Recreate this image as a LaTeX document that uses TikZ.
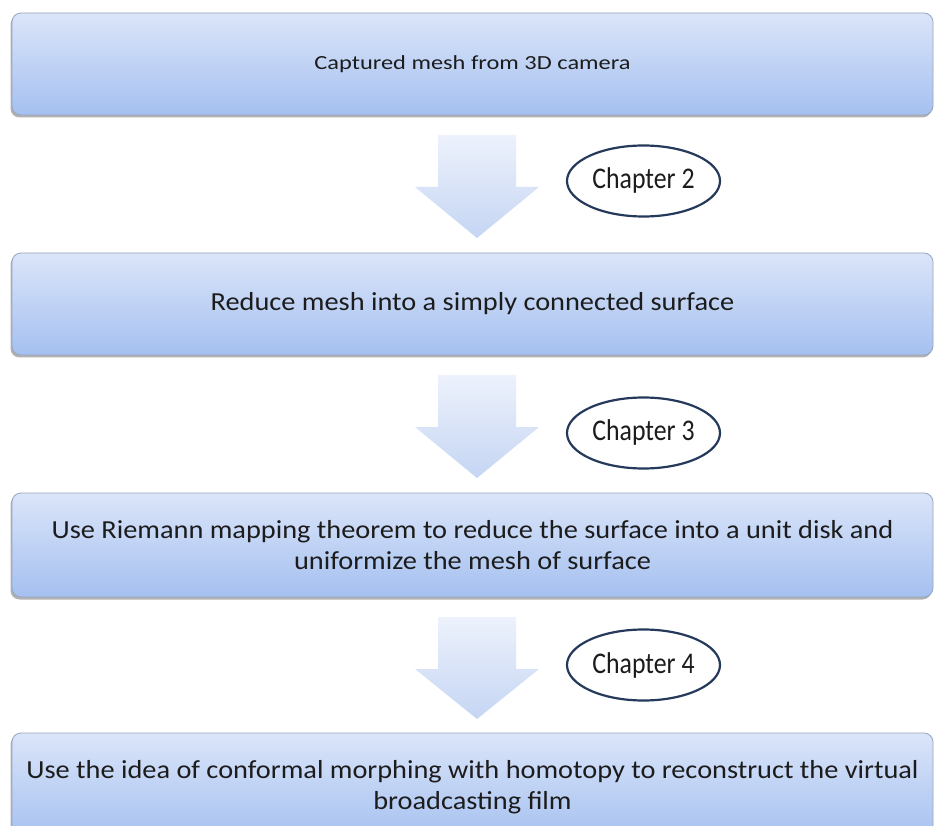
\documentclass[tikz,border=0pt]{standalone}
\usepackage{fontspec}
\setmainfont{Carlito}
\newfontfamily\boxfont{Carlito}[FakeStretch=1.09]
\newfontfamily\topfont{Carlito}[FakeStretch=1.22]
\newfontfamily\chapfont{Carlito}[FakeStretch=0.86]
\usetikzlibrary{shapes.geometric,shadows}
\definecolor{boxtop}{HTML}{DBE5F9}
\definecolor{boxbot}{HTML}{A5C0F0}
\definecolor{boxline}{HTML}{98A6BE}
\definecolor{arrtop}{HTML}{EDF2FC}
\definecolor{arrbot}{HTML}{C5D5F3}
\definecolor{ellline}{HTML}{25395A}
\definecolor{txt}{HTML}{1C1C1C}
\begin{document}
\begin{tikzpicture}[x=1pt,y=-1pt,
 stepbox/.style={draw=boxline, line width=0.8pt, rounded corners=9pt,
   top color=boxtop, bottom color=boxbot, align=center, text=txt,
   font=\boxfont\fontsize{26}{31}\selectfont, minimum width=921pt, inner sep=0pt,
   drop shadow={shadow xshift=-1.5pt, shadow yshift=-2.5pt, fill=black!55, opacity=0.55}},
 chap/.style={ellipse, draw=ellline, line width=2.2pt, fill=white, text=txt,
   minimum width=153pt, minimum height=71pt, inner sep=0pt,
   font=\chapfont\fontsize{30}{34}\selectfont},
 blockarrow/.style={top color=arrtop, bottom color=arrbot, draw=none}
]
\clip (0,0) rectangle (935,826);
\fill[white] (0,0) rectangle (935,826);
\useasboundingbox (0,0) rectangle (935,826);

\node[stepbox, minimum height=102pt, font=\topfont\fontsize{20}{24}\selectfont] (b1) at (472.5,64) {Captured mesh from 3D camera};
\node[stepbox, minimum height=102pt] (b2) at (472.5,304) {Reduce mesh into a simply connected surface};
\node[stepbox, minimum height=104pt] (b3) at (472.5,545) {Use Riemann mapping theorem to reduce the surface into a unit disk and\\uniformize the mesh of surface};
\node[stepbox, minimum height=108pt] (b4) at (472.5,787) {Use the idea of conformal morphing with homotopy to reconstruct the virtual\\broadcasting film};

\path[blockarrow] (438,135) -- (516,135) -- (516,187) -- (539,187) -- (477,238) -- (415,187) -- (438,187) -- cycle;
\path[blockarrow] (438,375) -- (516,375) -- (516,427) -- (539,427) -- (477,478) -- (415,427) -- (438,427) -- cycle;
\path[blockarrow] (438,617) -- (516,617) -- (516,669) -- (539,669) -- (477,719) -- (415,669) -- (438,669) -- cycle;

\node[chap] (c2) at (643.5,181) {Chapter 2};
\node[chap] (c3) at (643.5,433) {Chapter 3};
\node[chap] (c4) at (643.5,665) {Chapter 4};
\end{tikzpicture}
\end{document}
